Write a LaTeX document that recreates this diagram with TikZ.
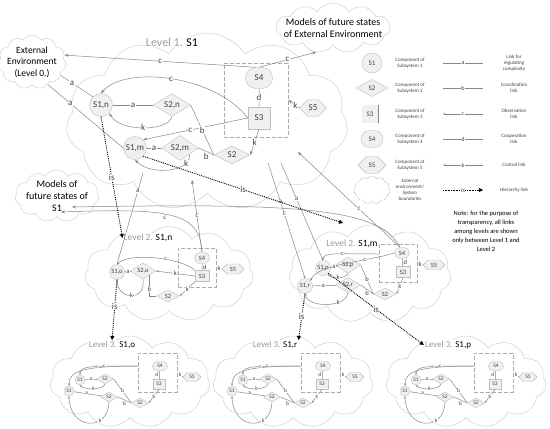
\documentclass[tikz,border=0pt]{standalone}
\usepackage{fontspec}
\setmainfont{Carlito}
\usetikzlibrary{shapes.geometric,shapes.symbols,shapes.misc,arrows.meta}
\definecolor{lnkgray}{RGB}{135,135,135}
\definecolor{cldgray}{RGB}{208,208,208}
\definecolor{fillgray}{RGB}{240,240,240}
\definecolor{txtgray}{RGB}{64,64,64}
\definecolor{ttlgray}{RGB}{155,155,155}
\tikzset{
	cld/.style={cloud, cloud puffs=11, cloud puff arc=115, cloud ignores aspect, draw=cldgray, line width=.5pt, inner sep=0pt},
	cmp/.style={draw=gray!50, fill=fillgray, text=txtgray, inner sep=0pt},
	cmpa/.style={cmp, circle},
	cmpb/.style={cmp, diamond},
	cmpc/.style={cmp, rectangle},
	cmpd/.style={cmp, rounded rectangle},
	cmpe/.style={cmp, signal, signal to=east and west},
	lnk/.style={draw=lnkgray, line width=.5pt},
	arr/.style={lnk, -{Stealth[length=4pt,width=3pt]}},
	arrs/.style={lnk, -{Stealth[length=2.5pt,width=2pt]}},
	hier/.style={densely dotted, line width=.9pt, -{Triangle[length=4pt,width=4pt]}},
	lbl/.style={fill=white, inner sep=.4pt, text=txtgray},
	bx/.style={draw=gray!65, dash pattern=on 4pt off 2pt, line width=.8pt},
	ttl/.style={fill=white, inner sep=1pt, text=ttlgray},
	dsc/.style={align=center, text=txtgray},
}
\begin{document}
\begin{tikzpicture}[x=1pt, y=-1pt]
	\path[use as bounding box, fill=white] (0,0) rectangle (550,429);
	%Nubes%
	\node[cld, minimum width=282, minimum height=178] (c1) at (207,122) {};
	\node[cld, minimum width=68, minimum height=54] (env) at (32,62) {};
	\node[cld, minimum width=114, minimum height=50] (mee) at (333,28) {};
	\node[cld, minimum width=84, minimum height=52] (ms1) at (57,196) {};
	\node[cld, minimum width=168, minimum height=95] (c2n) at (169,274) {};
	\node[cld, minimum width=162, minimum height=98] (c2m) at (370,274) {};
	\node[dsc, text=black, font=\fontsize{9.5}{11.5}\selectfont] (envt) at (32,62) {External\\Environment\\(Level 0.)};
	\node[dsc, text=black, font=\fontsize{10}{12}\selectfont] (meet) at (333,28) {Models of future states\\of External Environment};
	\node[dsc, text=black, font=\fontsize{10}{12}\selectfont] (ms1t) at (57,196) {Models of\\future states of\\S1};
	\node[ttl, font=\fontsize{12}{14}\selectfont] (t1) at (172,42) {Level 1. \textcolor{black}{S1}};
	\node[ttl, font=\fontsize{9.5}{11}\selectfont] (t2n) at (148,238) {Level 2. \textcolor{black}{S1,n}};
	\node[ttl, font=\fontsize{9.5}{11}\selectfont] (t2m) at (352,244) {Level 2. \textcolor{black}{S1,m}};

	%Nivel1%
	\begin{scope}[font=\fontsize{9}{10}\selectfont]
		\node[cmpa, minimum size=23] (s1n) at (101,105) {S1,n};
		\node[cmpb, minimum width=37, minimum height=19] (s2n) at (172,105) {S2,n};
		\node[cmpa, minimum size=23] (s1m) at (135,148) {S1,m};
		\node[cmpb, minimum width=37, minimum height=19] (s2m) at (180,148) {S2,m};
		\node[cmpb, minimum width=36, minimum height=18] (s2) at (232,155) {S2};
		\node[cmpd, minimum width=27, minimum height=21] (s4) at (259,78) {S4};
		\node[cmpc, minimum width=22, minimum height=22] (s3) at (259,118) {S3};
		\node[cmpe, minimum width=27, minimum height=17] (s5) at (313,108) {S5};
		\node[bx, minimum width=64, minimum height=74] (b1) at (256,100) {};
		\draw[arr] (s4.north west) -- node[lbl, pos=.5]{c} (env.12);
		\draw[arr] (s4.north) -- node[lbl]{c} (mee.235);
		\draw[lnk] (env.-25) -- node[lbl, pos=.35]{a} (s1n.north west);
		\draw[lnk] (env.-55) -- node[lbl, pos=.3]{a} (s1m.west);
		\draw[arr] (s3.west) .. controls (215,75) and (125,65) .. node[lbl]{c} (s1n.north);
		\draw[lnk] (s1n) -- node[lbl]{a} (s2n);
		\draw[arr] (s2n.south) .. controls (168,132) and (120,132) .. node[lbl]{k} (s1n.south east);
		\draw[arr] (s3.west) -- node[lbl, pos=.55]{c} (s1m.north east);
		\draw[lnk] (s2n.east) -- node[lbl]{b} (s2.west);
		\draw[lnk] (s1m) -- node[lbl]{a} (s2m);
		\draw[arr] (s2m.south east) .. controls (192,172) and (150,176) .. node[lbl, pos=.2]{k} (s1m.south);
		\draw[lnk] (s2m.east) -- node[lbl, below=1pt]{b} (s2.west);
		\draw[arr] (s3.south) -- node[lbl]{k} (s2.east);
		\draw[arr] (s5.west) -- node[lbl, pos=.35]{k} (b1.east);
		\draw[lnk] (s4) -- node[lbl]{d} (s3);
	\end{scope}

	%Nivel2 S1,n%
	\begin{scope}[font=\fontsize{6.5}{7}\selectfont]
		\node[cmpa, minimum size=15] (l2n-s1o) at (117,272) {S1,o};
		\node[cmpb, minimum width=25, minimum height=13] (l2n-s2o) at (143,271) {S2,o};
		\node[cmpd, minimum width=15, minimum height=11] (l2n-s4) at (202,258) {S4};
		\node[cmpc, minimum width=14, minimum height=11] (l2n-s3) at (202,276) {S3};
		\node[cmpe, minimum width=22, minimum height=10] (l2n-s5) at (233,269) {S5};
		\node[cmpb, minimum width=23, minimum height=12] (l2n-s2) at (168,296) {S2};
		\node[bx, minimum width=38, minimum height=39] (l2n-b) at (197,267.5) {};
		\draw[lnk] (l2n-s1o) -- node[lbl]{a} (l2n-s2o);
		\draw[arrs] (l2n-s3.west) -- node[lbl]{k} (l2n-s2o.east);
		\draw[arrs] (l2n-s3.north west) .. controls (182,258) and (130,252) .. node[lbl, pos=.4]{c} (l2n-s1o.north);
		\draw[lnk] (l2n-s2o.south east) |- node[lbl, pos=.35]{b} (l2n-s2.west);
		\draw[arrs] (l2n-s3.south west) -- node[lbl]{k} (l2n-s2.east);
		\draw[arrs] (l2n-s2o.south) .. controls (146,302) and (118,300) .. node[lbl]{k} (l2n-s1o.south);
		\draw[lnk] (l2n-s4) -- node[lbl, right=.5pt]{d} (l2n-s3);
		\draw[arrs] (l2n-s5.west) -- node[lbl]{k} (l2n-b.east);
	\end{scope}

	%Nivel2 S1,m%
	\begin{scope}[font=\fontsize{6.5}{7}\selectfont]
		\node[cmpa, minimum size=15] (l2m-s1p) at (323,268) {S1,p};
		\node[cmpb, minimum width=25, minimum height=13] (l2m-s2p) at (348,265) {S2,p};
		\node[cmpa, minimum size=15] (l2m-s1r) at (305,286) {S1,r};
		\node[cmpb, minimum width=25, minimum height=13] (l2m-s2r) at (348,285) {S2,r};
		\node[cmpb, minimum width=23, minimum height=12] (l2m-s2) at (385,294) {S2};
		\node[cmpd, minimum width=15, minimum height=11] (l2m-s4) at (402,253) {S4};
		\node[cmpc, minimum width=14, minimum height=11] (l2m-s3) at (403,272) {S3};
		\node[cmpe, minimum width=22, minimum height=10] (l2m-s5) at (434,265) {S5};
		\node[bx, minimum width=38, minimum height=38] (l2m-b) at (398,263) {};
		\coordinate (l2m-cl) at (379,254);
		\draw[arrs] (l2m-cl) .. controls (340,254) and (323,252) .. node[lbl, pos=.4]{c} (l2m-s1p.north);
		\draw[arrs] (l2m-s4.west) .. controls (365,262) and (318,264) .. node[lbl, pos=.3]{c} (l2m-s1r.north east);
		\draw[lnk] (l2m-s1p) -- node[lbl]{a} (l2m-s2p);
		\draw[arrs] (l2m-s2p.south) .. controls (346,279) and (330,279) .. node[lbl]{k} (l2m-s1p.south east);
		\draw[lnk] (l2m-s1r) -- node[lbl, pos=.45]{a} (l2m-s2r);
		\draw[arrs] (l2m-s2r.south) .. controls (346,308) and (308,308) .. node[lbl, pos=.3]{k} (l2m-s1r.south);
		\draw[lnk] (l2m-s2p.east) -- node[lbl]{b} (l2m-s2.west);
		\draw[lnk] (l2m-s2r.east) -- node[lbl, below=1pt]{b} (l2m-s2.west);
		\draw[arrs] (l2m-s3.south) -- node[lbl]{k} (l2m-s2.east);
		\draw[lnk] (l2m-s4) -- node[lbl, right=.5pt]{d} (l2m-s3);
		\draw[arrs] (l2m-s5.west) -- node[lbl]{k} (l2m-b.east);
	\end{scope}

	%Nivel3%
	\foreach \dx/\nm/\ttlname in {0/o/{S1,o},163/r/{S1,r},336/p/{S1,p}}{
	\begin{scope}[xshift=\dx, font=\fontsize{5.5}{6}\selectfont]
		\node[cld, minimum width=160, minimum height=92] (c3\nm) at (130,382) {};
		\node[ttl, font=\fontsize{9}{10}\selectfont] (t3\nm) at (112,345) {Level 3. \textcolor{black}{\ttlname}};
		\node[cmpa, minimum size=10] (l3\nm-s1a) at (80,380) {S1};
		\node[cmpb, minimum width=17, minimum height=10] (l3\nm-s2a) at (105,379) {S2};
		\node[cmpa, minimum size=10] (l3\nm-s1b) at (69,391) {S1};
		\node[cmpb, minimum width=17, minimum height=10] (l3\nm-s2b) at (109,397) {S2};
		\node[cmpb, minimum width=17, minimum height=10] (l3\nm-s2m) at (140,403) {S2};
		\node[cmpd, minimum width=15, minimum height=9] (l3\nm-s4) at (160,366) {S4};
		\node[cmpc, minimum width=12, minimum height=10] (l3\nm-s3) at (159,384) {S3};
		\node[cmpe, minimum width=18, minimum height=9] (l3\nm-s5) at (192,377) {S5};
		\node[bx, minimum width=39, minimum height=39] (l3\nm-b) at (157.5,372.5) {};
		\coordinate (l3\nm-cl) at (138,366);
		\draw[arrs] (l3\nm-cl) .. controls (90,366) and (80,366) .. node[lbl, pos=.3]{c} (l3\nm-s1a.north);
		\draw[arrs] (l3\nm-cl) .. controls (80,366) and (69,372) .. node[lbl, pos=.3]{c} (l3\nm-s1b.north);
		\draw[lnk] (l3\nm-s1a) -- node[lbl]{a} (l3\nm-s2a);
		\draw[arrs] (l3\nm-s2a.south) .. controls (103,390) and (85,390) .. node[lbl]{k} (l3\nm-s1a.south);
		\draw[lnk] (l3\nm-s1b) -- node[lbl, pos=.45]{a} (l3\nm-s2b);
		\draw[arrs] (l3\nm-s2b.south) .. controls (108,432) and (70,430) .. node[lbl, pos=.3]{k} (l3\nm-s1b.south);
		\draw[lnk] (l3\nm-s2a.east) -- node[lbl]{b} (l3\nm-s2m.west);
		\draw[lnk] (l3\nm-s2b.east) -- node[lbl, below=1pt]{b} (l3\nm-s2m.west);
		\draw[arrs] (l3\nm-s3.south) -- node[lbl]{k} (l3\nm-s2m.east);
		\draw[lnk] (l3\nm-s4) -- node[lbl, left=.5pt]{d} (l3\nm-s3);
		\draw[arrs] (l3\nm-s5.west) -- node[lbl]{k} (l3\nm-b.east);
	\end{scope}
	}

	%Entre niveles%
	\begin{scope}[font=\fontsize{7}{8}\selectfont]
		\coordinate (ua) at (143,173);
		\coordinate (uc) at (192,180);
		\coordinate (ucm) at (298,152);
		\coordinate (ul) at (268,163);
		\coordinate (ur) at (281,163);
		\coordinate (is2) at (343,223);
		\coordinate (ms1a) at (72,207);
		\coordinate (ms1b) at (61,212);
		\draw[lnk] (ua) -- node[lbl, pos=.2]{a} (l2n-s1o.north);
		\draw[arr] (l2n-s4.north) -- node[lbl]{c} (uc);
		\draw[arr] (l2n-s4.north) .. controls (200,212) and (170,208) .. node[lbl, pos=.55, below=1pt]{c} (ms1b);
		\draw[arr] (l2m-s4.north west) .. controls (380,208) and (300,203) .. (ms1a);
		\draw[arr] (l2m-s4.north west) -- node[lbl, pos=.4]{c} (ucm);
		\draw[arrs] (ul) -- node[lbl, pos=.34]{a} node[lbl, pos=.44]{c} (l2m-s1r.north);
		\draw[arrs] (ur) -- node[lbl, pos=.37]{a} (l2m-s1p.north);
		\draw[hier] (s1n.south) -- node[lbl, pos=.5, font=\fontsize{9}{10}\selectfont]{is} (t2n.west);
		\draw[hier] (s1m.south east) -- node[lbl, pos=.5, font=\fontsize{9}{10}\selectfont]{is} (is2);
		\draw[hier] (l2n-s1o.south) -- node[lbl, pos=.45, font=\fontsize{9}{10}\selectfont]{is} (t3o.north);
		\draw[hier] (l2m-s1r.south) -- node[lbl, pos=.5, font=\fontsize{9}{10}\selectfont]{is} (t3r.north east);
		\draw[hier] (l2m-s1p.south east) -- node[lbl, pos=.5, font=\fontsize{9}{10}\selectfont]{is} (t3p.west);
	\end{scope}

	%Leyenda%
	\begin{scope}[font=\fontsize{7}{8}\selectfont]
		\node[cmpa, minimum size=20] (lg1) at (372,63) {S1};
		\node[cmpb, minimum width=32, minimum height=17] (lg2) at (372,88) {S2};
		\node[cmpc, draw=none, minimum width=16, minimum height=18] (lg3) at (370,114) {S3};
		\draw[lnk] (lg3.north east) -- (lg3.south east);
		\node[cmpd, minimum width=22, minimum height=17] (lg4) at (372,139) {S4};
		\node[cmpe, minimum width=28, minimum height=17] (lg5) at (372,165) {S5};
		\node[cld, draw=gray!75, line width=.7pt, dash pattern=on .6pt off 1.2pt, minimum width=36, minimum height=28] (lg6) at (372,190) {};
	\end{scope}
	\begin{scope}[font=\fontsize{5}{6}\selectfont]
		\node[dsc] (dl1) at (410,63) {Component of\\Subsystem 1};
		\node[dsc] (dl2) at (410,88) {Component of\\Subsystem 2};
		\node[dsc] (dl3) at (410,114) {Component of\\Subsystem 3};
		\node[dsc] (dl4) at (410,139) {Component of\\Subsystem 4};
		\node[dsc] (dl5) at (410,165) {Component of\\Subsystem 5};
		\node[dsc] (dl6) at (410,190) {External\\environment/\\System\\boundaries};
		\foreach \yy/\nm in {63/1,88/2,114/3,139/4,165/5,190/6}{
			\coordinate (ka\nm) at (443,\yy);
			\coordinate (kb\nm) at (483,\yy);
		}
		\draw[lnk] (ka1) -- node[lbl, font=\fontsize{6}{7}\selectfont]{a} (kb1);
		\draw[lnk] (ka2) -- node[lbl, font=\fontsize{6}{7}\selectfont]{b} (kb2);
		\draw[arrs] (kb3) -- node[lbl, font=\fontsize{6}{7}\selectfont]{c} (ka3);
		\draw[lnk] (ka4) -- node[lbl, font=\fontsize{6}{7}\selectfont]{d} (kb4);
		\draw[arrs] (kb5) -- node[lbl, font=\fontsize{6}{7}\selectfont]{k} (ka5);
		\draw[hier, line width=.6pt] (ka6) -- node[lbl, font=\fontsize{6}{7}\selectfont]{is} (kb6);
		\node[dsc] (el1) at (514,63) {Link for\\regulating\\complexity};
		\node[dsc] (el2) at (514,88) {Coordination\\link};
		\node[dsc] (el3) at (514,114) {Observation\\link};
		\node[dsc] (el4) at (514,139) {Cooperation\\link};
		\node[dsc] (el5) at (514,165) {Control link};
		\node[dsc] (el6) at (514,190) {Hierarchy link};
	\end{scope}
	\node[dsc, text=black, font=\fontsize{6.5}{9}\selectfont] (note) at (486,231) {Note: for the purpose of\\transparency, all links\\among levels are shown\\only between Level 1 and\\Level 2};
\end{tikzpicture}
\end{document}
